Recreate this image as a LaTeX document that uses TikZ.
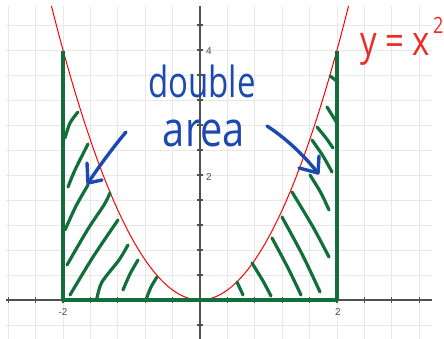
\documentclass[tikz,border=0pt]{standalone}
\usepackage{fontspec}
\setmainfont{Open Sans}
\newfontfamily\tickfont{Liberation Sans}
\definecolor{gridgray}{RGB}{232,232,232}
\definecolor{axisgray}{RGB}{80,80,80}
\definecolor{hatchgreen}{RGB}{18,110,58}
\definecolor{penblue}{RGB}{28,72,178}
\definecolor{inkred}{RGB}{235,45,40}
\begin{document}
\begin{tikzpicture}[x=1pt,y=-1pt,
  gridline/.style={draw=gridgray, line width=0.8pt},
  axisline/.style={draw=axisgray, line width=1.2pt},
  hatch/.style={draw=hatchgreen, line width=3.2pt, line cap=round, line join=round},
  bound/.style={draw=hatchgreen, line width=4pt, line join=round},
  curveline/.style={draw=red, line width=1pt},
  pen/.style={draw=penblue, line width=3.4pt, line cap=round, line join=round},
  ticklabel/.style={font=\tickfont\fontsize{10}{10}\selectfont, text=axisgray, inner sep=0pt}
]
\useasboundingbox (0,0) rectangle (444,339);
\fill[white] (0,0) rectangle (444,339);
% grid
\foreach \k in {-7,...,8} \draw[gridline] ({200+27.4*\k},6) -- ({200+27.4*\k},339);
\foreach \k in {-1,...,11} \draw[gridline] (6,{300-25*\k}) -- (432,{300-25*\k});
% axes
\coordinate (xa0) at (6,300); \coordinate (xa1) at (432,300);
\coordinate (ya0) at (200,6); \coordinate (ya1) at (200,339);
\draw[axisline] (xa0) -- (xa1);
\draw[axisline] (ya0) -- (ya1);
\foreach \k in {-7,...,8} \draw[axisline] ({200+27.4*\k},297) -- ({200+27.4*\k},303);
\foreach \k in {-1,...,11} \draw[axisline] (197,{300-25*\k}) -- (203,{300-25*\k});
\node[ticklabel] (tm2) at (63,312) {-2};
\node[ticklabel] (tp2) at (338,312) {2};
\node[ticklabel] (ty4) at (209,51) {4};
\node[ticklabel] (ty2) at (209,177) {2};
% parabola
\draw[curveline] plot[domain=-2.169:2.169, samples=150] ({200+68.5*\x},{300-62.5*\x*\x});
% hatching left
\draw[hatch] plot[smooth] coordinates {(65,138) (70,123) (78,112)};
\draw[hatch] plot[smooth] coordinates {(68,187) (75,170) (88,144)};
\draw[hatch] plot[smooth] coordinates {(65,230) (76,206) (88,185)};
\draw[hatch] plot[smooth] coordinates {(67,265) (88,229) (104,205) (110,193)};
\draw[hatch] plot[smooth] coordinates {(70,295) (93,257) (118,220)};
\draw[hatch] plot[smooth] coordinates {(97,298) (102,282) (119,260) (128,245)};
\draw[hatch] plot[smooth] coordinates {(123,290) (130,274) (138,260)};
\draw[hatch] plot[smooth] coordinates {(147,297) (151,287) (157,277)};
% hatching right
\draw[hatch] plot[smooth] coordinates {(237,282) (243,295)};
\draw[hatch] plot[smooth] coordinates {(252,263) (263,281) (271,296)};
\draw[hatch] plot[smooth] coordinates {(272,238) (288,268) (301,295)};
\draw[hatch] plot[smooth] coordinates {(282,217) (303,256) (320,292)};
\draw[hatch] plot[smooth] coordinates {(292,192) (313,227) (329,257)};
\draw[hatch] plot[smooth] coordinates {(310,175) (321,193) (329,210)};
\draw[hatch] plot[smooth] coordinates {(312,140) (323,156) (332,172)};
\draw[hatch] plot[smooth] coordinates {(317,127) (326,138) (333,148)};
\draw[hatch] plot[smooth] coordinates {(327,107) (332,115) (337,123)};
\draw[hatch] plot[smooth] coordinates {(330,76) (338,82)};
% boundary
\coordinate (bl) at (63,51); \coordinate (bo) at (63,300);
\coordinate (br) at (337,300); \coordinate (bt) at (337,51);
\draw[bound] (bl) -- (bo) -- (br) -- (bt);
% blue arrows
\coordinate (la0) at (126,132); \coordinate (la1) at (88,183);
\coordinate (lh1) at (87,163); \coordinate (lh2) at (102,180);
\draw[pen] (la0) .. controls (111,150) and (98,168) .. (la1);
\draw[pen] (lh1) -- (la1) -- (lh2);
\coordinate (ra0) at (267,126); \coordinate (ra1) at (318,173);
\coordinate (rh1) at (299,168); \coordinate (rh2) at (319,156);
\draw[pen] (ra0) .. controls (284,137) and (302,153) .. (ra1);
\draw[pen] (rh1) -- (ra1) -- (rh2);
% handwritten texts
\node[anchor=base, text=penblue, inner sep=0pt, font=\fontsize{33}{33}\selectfont] (dbl) at (202,98) {\scalebox{1}[1.3]{double}};
\node[anchor=base, text=penblue, inner sep=0pt, font=\fontsize{39}{39}\selectfont] (ar) at (204,147) {\scalebox{1.02}[1.25]{area}};
\node[anchor=base west, text=inkred, inner sep=0pt, font=\fontsize{33}{33}\selectfont] (eq) at (360,56) {\scalebox{1}[1.25]{y = x\kern3pt\raisebox{0.55em}{\fontsize{18}{18}\selectfont 2}}};
\end{tikzpicture}
\end{document}
